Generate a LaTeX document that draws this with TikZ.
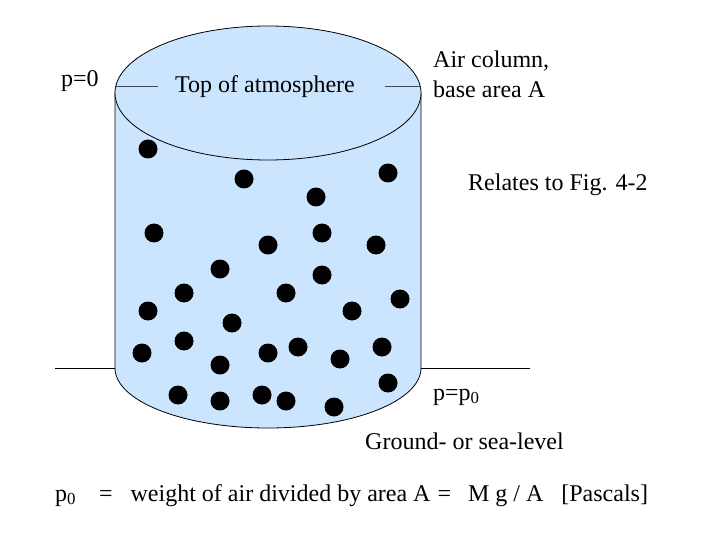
\documentclass[tikz,border=0pt]{standalone}
\usepackage{fontspec}
\setmainfont{Liberation Serif}
\definecolor{airblue}{HTML}{CCE5FF}
\definecolor{leader}{HTML}{3A4A5A}
\tikzset{
  lbl/.style={inner sep=0pt,font=\fontsize{24}{28}\selectfont,text=black},
  molecule/.style={circle,fill=black,minimum size=19pt,inner sep=0pt},
  outline/.style={draw=black,line width=0.8pt},
  leaderline/.style={draw=leader,line width=0.8pt}
}
\begin{document}
\begin{tikzpicture}[x=1pt,y=-1pt]
\useasboundingbox (0,0) rectangle (720,540);
\fill[white] (0,0) rectangle (720,540);
% body
\path[fill=airblue] (115,93) -- (115,368) arc[start angle=180,end angle=0,x radius=153,y radius=60] -- (421,93) -- cycle;
\draw[outline] (115,93) -- (115,368) arc[start angle=180,end angle=0,x radius=153,y radius=60] -- (421,93);
\draw[outline,fill=airblue] (268,93) ellipse[x radius=153,y radius=67];
% ground
\coordinate (gl0) at (55,368); \coordinate (gl1) at (115,368);
\coordinate (gr0) at (421,368); \coordinate (gr1) at (530,368);
\draw[outline] (gl0) -- (gl1);
\draw[outline] (gr0) -- (gr1);
% leaders
\coordinate (tl0) at (115,86); \coordinate (tl1) at (158,86);
\coordinate (tr0) at (385,86); \coordinate (tr1) at (421,86);
\draw[leaderline] (tl0) -- (tl1);
\draw[leaderline] (tr0) -- (tr1);
% molecules
\foreach \i/\x/\y in {a/148/149,b/244/179,c/316/197,d/388/173,e/154/233,f/268/245,g/322/233,h/376/245,
  i/220/269,j/322/275,k/184/293,l/286/293,m/400/299,n/148/311,o/352/311,p/232/323,
  q/184/341,r/142/353,s/220/365,t/268/353,u/298/347,v/340/359,w/382/347,x/388/383,
  y/178/395,z/220/401,aa/262/395,ab/286/401,ac/334/407}
  \node[molecule] (m\i) at (\x,\y) {};
% labels
\node[lbl,anchor=base west] (p0top) at (61,87) {p=0};
\node[lbl,anchor=base west] (top) at (175,93) {Top of atmosphere};
\node[lbl,anchor=base west] (col1) at (433,68) {Air column,};
\node[lbl,anchor=base west] (col2) at (433,98) {base area A};
\node[lbl,anchor=base west] (rel) at (468,191) {Relates to Fig. 4-2};
\node[lbl,anchor=base west] (pp0) at (433,400) {p=p\textsubscript{0}};
\node[lbl,anchor=base west] (ground) at (365,449) {Ground- or sea-level};
\node[lbl,anchor=base west] (eq) at (55,501) {p\textsubscript{0}\hspace{23pt}=\hspace{18pt}weight of air divided by area A\hspace{7pt}=\hspace{17pt}M g / A\hspace{18pt}[Pascals]};
\end{tikzpicture}
\end{document}
